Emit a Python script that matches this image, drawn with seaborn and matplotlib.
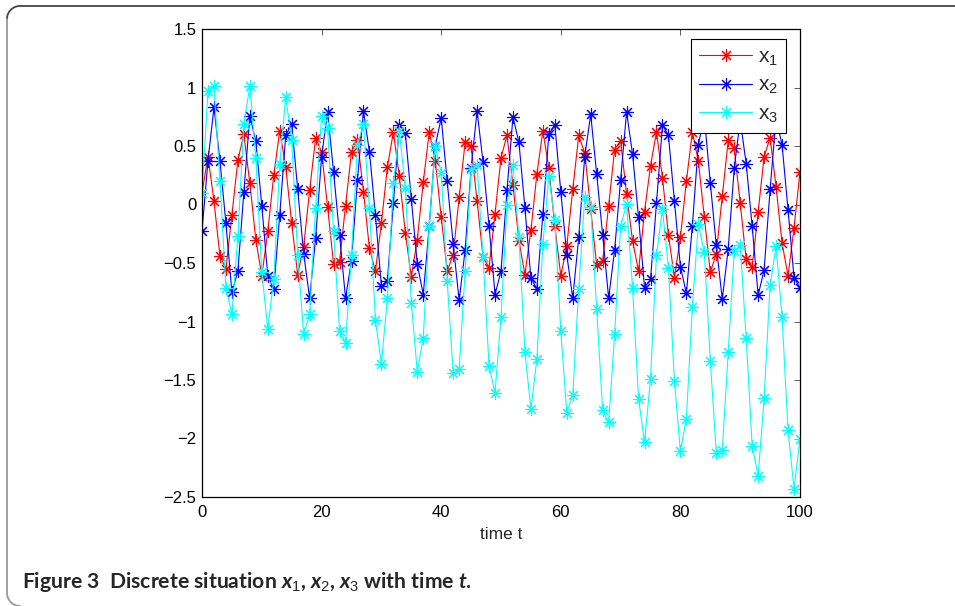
import numpy as np
import matplotlib.pyplot as plt
import seaborn as sns
from matplotlib.lines import Line2D
from matplotlib.ticker import FuncFormatter

# Data (discrete situation, t = 0..100)
t = list(range(101))
x1 = [0.10, 0.41, 0.03, -0.44, -0.55, -0.09, 0.38, 0.60, 0.18, -0.30,
      -0.61, -0.23, 0.25, 0.63, 0.32, -0.16, -0.60, -0.36, 0.12, 0.57,
      0.45, -0.02, -0.51, -0.49, -0.01, 0.45, 0.55, 0.11, -0.375, -0.57,
      -0.16, 0.32, 0.62, 0.24, -0.24, -0.62, -0.30, 0.19, 0.62, 0.375,
      -0.105, -0.57, -0.43, 0.06, 0.53, 0.50, 0.03, -0.45, -0.54, -0.08,
      0.40, 0.59, 0.165, -0.31, -0.60, -0.22, 0.26, 0.63, 0.31, -0.185,
      -0.61, -0.355, 0.13, 0.59, 0.44, -0.04, -0.52, -0.48, -0.01, 0.47,
      0.545, 0.09, -0.31, -0.57, -0.06, 0.33, 0.62, 0.23, -0.26, -0.625,
      -0.28, 0.20, 0.62, 0.37, -0.11, -0.58, -0.42, 0.07, 0.55, 0.48,
      0.01, -0.47, -0.53, -0.065, 0.41, 0.57, 0.15, -0.33, -0.61, -0.20,
      0.28]
x2 = [-0.23, 0.375, 0.83, 0.375, -0.16, -0.75, -0.57, 0.105, 0.76, 0.54,
      -0.01, -0.61, -0.72, -0.09, 0.59, 0.69, 0.13, -0.42, -0.80, -0.29,
      0.41, 0.79, 0.28, -0.26, -0.80, -0.48, 0.21, 0.80, 0.45, -0.09,
      -0.70, -0.65, 0.01, 0.68, 0.61, 0.05, -0.51, -0.77, -0.18, 0.50,
      0.74, 0.20, -0.335, -0.82, -0.39, 0.31, 0.80, 0.36, -0.18, -0.77,
      -0.57, 0.12, 0.75, 0.53, -0.03, -0.63, -0.72, -0.085, 0.60, 0.68,
      0.11, -0.43, -0.80, -0.28, 0.41, 0.77, 0.26, -0.26, -0.80, -0.39,
      0.21, 0.79, 0.43, -0.11, -0.71, -0.64, 0.01, 0.68, 0.59, 0.03,
      -0.53, -0.76, -0.18, 0.51, 0.75, 0.185, -0.35, -0.81, -0.38, 0.31,
      0.72, 0.35, -0.185, -0.775, -0.56, 0.13, 0.74, 0.51, -0.045, -0.625,
      -0.71]
x3 = [0.10, 0.97, 1.01, 0.20, -0.71, -0.94, -0.27, 0.69, 1.01, 0.40,
      -0.58, -1.06, -0.64, 0.35, 0.92, 0.55, -0.43, -1.11, -0.94, -0.03,
      0.76, 0.65, -0.23, -1.08, -1.18, -0.43, 0.51, 0.69, -0.03, -0.99,
      -1.36, -0.80, 0.18, 0.63, 0.14, -0.84, -1.43, -1.14, -0.18, 0.50,
      0.27, -0.65, -1.44, -1.41, -0.57, 0.30, 0.34, -0.45, -1.38, -1.61,
      -0.96, 0.00, 0.34, -0.28, -1.26, -1.75, -1.32, -0.34, 0.24, -0.13,
      -1.085, -1.78, -1.63, -0.72, 0.06, -0.02, -0.895, -1.76, -1.86, -1.11,
      -0.185, 0.005, -0.71, -1.66, -2.03, -1.49, -0.43, -0.04, -0.54, -1.51,
      -2.11, -1.83, -0.875, -0.17, -0.41, -1.335, -2.12, -2.10, -1.26, -0.40,
      -0.35, -1.14, -2.06, -2.32, -1.65, -0.69, -0.355, -0.96, -1.93, -2.43,
      -2.00]
labels = ["x$_1$", "x$_2$", "x$_3$"]
colors = ["#ff0000", "#0000ff", "#00ffff"]
xticks = [0, 20, 40, 60, 80, 100]
yticks = [-2.5, -2, -1.5, -1, -0.5, 0, 0.5, 1, 1.5]

sns.set_style("white")
plt.rcParams["font.family"] = ["Liberation Sans", "DejaVu Sans"]
plt.rcParams["mathtext.fontset"] = "custom"
plt.rcParams["mathtext.rm"] = "Liberation Sans"
plt.rcParams["mathtext.it"] = "Lato:italic:bold"

W, H = 955, 606
fig = plt.figure(figsize=(W / 100, H / 100), dpi=100)
ax = fig.add_axes([202 / W, 1 - 497 / H, 598 / W, 468 / H])

for y, col in zip([x1, x2, x3], colors):
    sns.lineplot(x=t, y=y, ax=ax, color=col, errorbar=None,
                 marker=(8, 2, 0), markersize=9, markeredgecolor=col,
                 markeredgewidth=0.8, linewidth=0.8)

ax.set_xlim(0, 100)
ax.set_ylim(-2.5, 1.5)
ax.set_xticks(xticks)
ax.set_yticks(yticks)
ax.yaxis.set_major_formatter(FuncFormatter(lambda v, p: f"{v:g}".replace("-", "\u2212")))
ax.tick_params(direction="in", top=True, right=True, length=4, width=0.6,
               labelsize=12, color="#444444", labelcolor="k")
ax.tick_params(axis="y", pad=4)
ax.tick_params(axis="x", pad=6)
for s in ax.spines.values():
    s.set_color("k")
    s.set_linewidth(0.9)
ax.set_xlabel("time t", fontsize=12.5, labelpad=5)
ax.set_ylabel("")

leg = ax.legend(ax.get_lines(), labels, loc="upper right",
                bbox_to_anchor=(0.9766, 0.9786), borderaxespad=0,
                fontsize=15, handlelength=2.55, labelspacing=0.4,
                fancybox=False, framealpha=1, edgecolor="k",
                borderpad=0.4, handletextpad=0.25)
leg.get_frame().set_linewidth(0.8)

# rounded panel border (pixel coords -> figure fraction)
r = 13
th = np.linspace(np.pi / 2, np.pi, 20)
top_x = [W] + list(7 + r + r * np.cos(th))
top_y = [6] + list(6 + r - r * np.sin(th))
fig.add_artist(Line2D(np.array(top_x) / W, 1 - np.array(top_y) / H,
                      transform=fig.transFigure, color="#444444", lw=1.3))
th2 = np.linspace(np.pi, 1.5 * np.pi, 20)
side_x = [7] + list(7 + r + r * np.cos(th2))
side_y = [6 + r] + list(H - r - r * np.sin(th2))
fig.add_artist(Line2D(np.array(side_x) / W, 1 - np.array(side_y) / H,
                      transform=fig.transFigure, color="#999999", lw=1.3))

fig.text(22 / W, 1 - 588 / H,
         "Figure 3  Discrete situation $x_1$, $x_2$, $x_3$ with time $t$.",
         family="Lato", fontweight="bold", fontsize=15.2, va="baseline", ha="left")

fig.savefig("out.png", dpi=100)
